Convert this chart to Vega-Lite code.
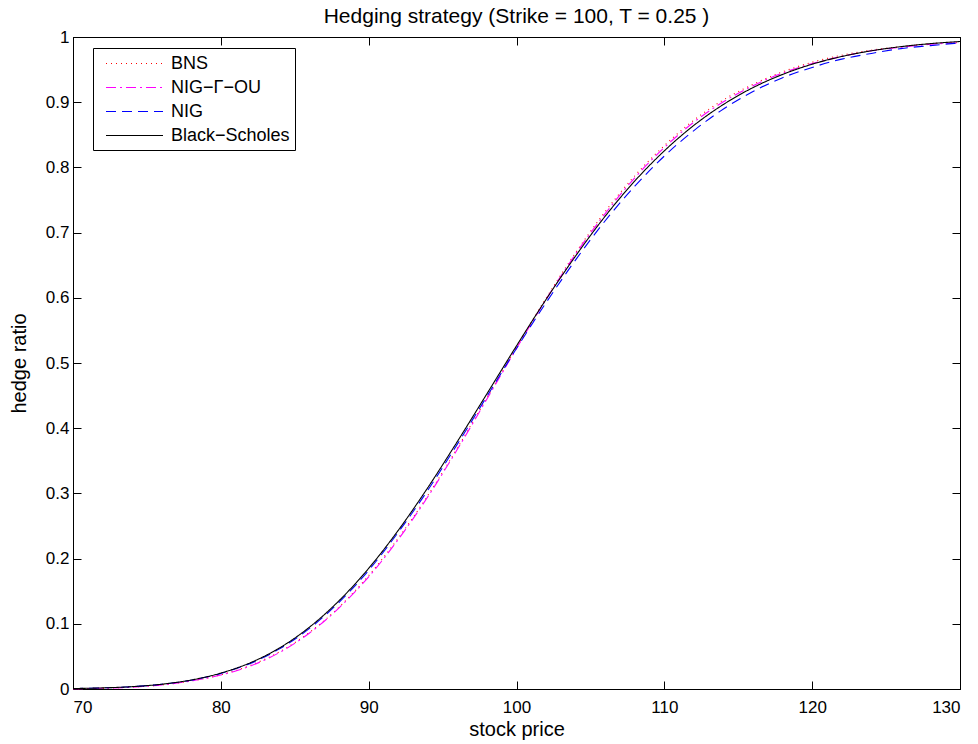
{
  "$schema": "https://vega.github.io/schema/vega-lite/v6.json",
  "width": 887,
  "height": 652,
  "autosize": {"type": "none"},
  "padding": {"left": 73, "top": 37, "right": 18, "bottom": 55},
  "background": "white",
  "config": {
    "font": "Liberation Sans",
    "view": {"stroke": "black", "strokeWidth": 1},
    "axis": {"grid": false, "domainColor": "black", "tickColor": "black", "labelColor": "black", "titleColor": "black", "labelFont": "Liberation Sans", "titleFont": "Liberation Sans", "labelFontSize": 17, "titleFontSize": 20, "titleFontWeight": "normal", "tickSize": -8}
  },
  "title": {"text": "Hedging strategy (Strike = 100, T = 0.25 )", "fontSize": 21, "fontWeight": "normal", "font": "Liberation Sans", "color": "black", "offset": 1},
  "data": {"values": [
    {"model": "BNS", "S": 70, "h": 0.0005}, {"model": "BNS", "S": 72, "h": 0.0013}, {"model": "BNS", "S": 74, "h": 0.0030}, {"model": "BNS", "S": 76, "h": 0.0063}, {"model": "BNS", "S": 78, "h": 0.0123}, {"model": "BNS", "S": 80, "h": 0.0219}, {"model": "BNS", "S": 82, "h": 0.0363}, {"model": "BNS", "S": 84, "h": 0.0574}, {"model": "BNS", "S": 86, "h": 0.0869}, {"model": "BNS", "S": 88, "h": 0.1255}, {"model": "BNS", "S": 90, "h": 0.1740}, {"model": "BNS", "S": 92, "h": 0.2313}, {"model": "BNS", "S": 94, "h": 0.2968}, {"model": "BNS", "S": 96, "h": 0.3696}, {"model": "BNS", "S": 98, "h": 0.4468}, {"model": "BNS", "S": 100, "h": 0.5243}, {"model": "BNS", "S": 102, "h": 0.5995}, {"model": "BNS", "S": 104, "h": 0.6692}, {"model": "BNS", "S": 106, "h": 0.7322}, {"model": "BNS", "S": 108, "h": 0.7871}, {"model": "BNS", "S": 110, "h": 0.8334}, {"model": "BNS", "S": 112, "h": 0.8725}, {"model": "BNS", "S": 114, "h": 0.9036}, {"model": "BNS", "S": 116, "h": 0.9274}, {"model": "BNS", "S": 118, "h": 0.9466}, {"model": "BNS", "S": 120, "h": 0.9613}, {"model": "BNS", "S": 122, "h": 0.9721}, {"model": "BNS", "S": 124, "h": 0.9798}, {"model": "BNS", "S": 126, "h": 0.9852}, {"model": "BNS", "S": 128, "h": 0.9898}, {"model": "BNS", "S": 130, "h": 0.9921},
    {"model": "NIG−Γ−OU", "S": 70, "h": 0.0004}, {"model": "NIG−Γ−OU", "S": 72, "h": 0.0012}, {"model": "NIG−Γ−OU", "S": 74, "h": 0.0028}, {"model": "NIG−Γ−OU", "S": 76, "h": 0.0063}, {"model": "NIG−Γ−OU", "S": 78, "h": 0.0123}, {"model": "NIG−Γ−OU", "S": 80, "h": 0.0214}, {"model": "NIG−Γ−OU", "S": 82, "h": 0.0353}, {"model": "NIG−Γ−OU", "S": 84, "h": 0.0564}, {"model": "NIG−Γ−OU", "S": 86, "h": 0.0859}, {"model": "NIG−Γ−OU", "S": 88, "h": 0.1245}, {"model": "NIG−Γ−OU", "S": 90, "h": 0.1720}, {"model": "NIG−Γ−OU", "S": 92, "h": 0.2293}, {"model": "NIG−Γ−OU", "S": 94, "h": 0.2948}, {"model": "NIG−Γ−OU", "S": 96, "h": 0.3676}, {"model": "NIG−Γ−OU", "S": 98, "h": 0.4448}, {"model": "NIG−Γ−OU", "S": 100, "h": 0.5223}, {"model": "NIG−Γ−OU", "S": 102, "h": 0.5975}, {"model": "NIG−Γ−OU", "S": 104, "h": 0.6672}, {"model": "NIG−Γ−OU", "S": 106, "h": 0.7292}, {"model": "NIG−Γ−OU", "S": 108, "h": 0.7841}, {"model": "NIG−Γ−OU", "S": 110, "h": 0.8304}, {"model": "NIG−Γ−OU", "S": 112, "h": 0.8695}, {"model": "NIG−Γ−OU", "S": 114, "h": 0.9006}, {"model": "NIG−Γ−OU", "S": 116, "h": 0.9254}, {"model": "NIG−Γ−OU", "S": 118, "h": 0.9446}, {"model": "NIG−Γ−OU", "S": 120, "h": 0.9593}, {"model": "NIG−Γ−OU", "S": 122, "h": 0.9701}, {"model": "NIG−Γ−OU", "S": 124, "h": 0.9788}, {"model": "NIG−Γ−OU", "S": 126, "h": 0.9842}, {"model": "NIG−Γ−OU", "S": 128, "h": 0.9888}, {"model": "NIG−Γ−OU", "S": 130, "h": 0.9911},
    {"model": "NIG", "S": 70, "h": 0.0007}, {"model": "NIG", "S": 72, "h": 0.0017}, {"model": "NIG", "S": 74, "h": 0.0036}, {"model": "NIG", "S": 76, "h": 0.0073}, {"model": "NIG", "S": 78, "h": 0.0135}, {"model": "NIG", "S": 80, "h": 0.0239}, {"model": "NIG", "S": 82, "h": 0.0393}, {"model": "NIG", "S": 84, "h": 0.0619}, {"model": "NIG", "S": 86, "h": 0.0929}, {"model": "NIG", "S": 88, "h": 0.1330}, {"model": "NIG", "S": 90, "h": 0.1820}, {"model": "NIG", "S": 92, "h": 0.2403}, {"model": "NIG", "S": 94, "h": 0.3048}, {"model": "NIG", "S": 96, "h": 0.3756}, {"model": "NIG", "S": 98, "h": 0.4488}, {"model": "NIG", "S": 100, "h": 0.5223}, {"model": "NIG", "S": 102, "h": 0.5925}, {"model": "NIG", "S": 104, "h": 0.6582}, {"model": "NIG", "S": 106, "h": 0.7182}, {"model": "NIG", "S": 108, "h": 0.7711}, {"model": "NIG", "S": 110, "h": 0.8174}, {"model": "NIG", "S": 112, "h": 0.8565}, {"model": "NIG", "S": 114, "h": 0.8896}, {"model": "NIG", "S": 116, "h": 0.9164}, {"model": "NIG", "S": 118, "h": 0.9376}, {"model": "NIG", "S": 120, "h": 0.9533}, {"model": "NIG", "S": 122, "h": 0.9661}, {"model": "NIG", "S": 124, "h": 0.9748}, {"model": "NIG", "S": 126, "h": 0.9822}, {"model": "NIG", "S": 128, "h": 0.9868}, {"model": "NIG", "S": 130, "h": 0.9911},
    {"model": "Black−Scholes", "S": 70, "h": 0.0007}, {"model": "Black−Scholes", "S": 72, "h": 0.0017}, {"model": "Black−Scholes", "S": 74, "h": 0.0036}, {"model": "Black−Scholes", "S": 76, "h": 0.0073}, {"model": "Black−Scholes", "S": 78, "h": 0.0138}, {"model": "Black−Scholes", "S": 80, "h": 0.0244}, {"model": "Black−Scholes", "S": 82, "h": 0.0403}, {"model": "Black−Scholes", "S": 84, "h": 0.0634}, {"model": "Black−Scholes", "S": 86, "h": 0.0949}, {"model": "Black−Scholes", "S": 88, "h": 0.1355}, {"model": "Black−Scholes", "S": 90, "h": 0.1850}, {"model": "Black−Scholes", "S": 92, "h": 0.2433}, {"model": "Black−Scholes", "S": 94, "h": 0.3088}, {"model": "Black−Scholes", "S": 96, "h": 0.3796}, {"model": "Black−Scholes", "S": 98, "h": 0.4528}, {"model": "Black−Scholes", "S": 100, "h": 0.5263}, {"model": "Black−Scholes", "S": 102, "h": 0.5975}, {"model": "Black−Scholes", "S": 104, "h": 0.6642}, {"model": "Black−Scholes", "S": 106, "h": 0.7252}, {"model": "Black−Scholes", "S": 108, "h": 0.7791}, {"model": "Black−Scholes", "S": 110, "h": 0.8254}, {"model": "Black−Scholes", "S": 112, "h": 0.8645}, {"model": "Black−Scholes", "S": 114, "h": 0.8966}, {"model": "Black−Scholes", "S": 116, "h": 0.9224}, {"model": "Black−Scholes", "S": 118, "h": 0.9426}, {"model": "Black−Scholes", "S": 120, "h": 0.9583}, {"model": "Black−Scholes", "S": 122, "h": 0.9701}, {"model": "Black−Scholes", "S": 124, "h": 0.9788}, {"model": "Black−Scholes", "S": 126, "h": 0.9852}, {"model": "Black−Scholes", "S": 128, "h": 0.9898}, {"model": "Black−Scholes", "S": 130, "h": 0.9931}
  ]},
  "layer": [
    {
      "mark": {"type": "line", "strokeWidth": 1.1, "interpolate": "monotone"},
      "encoding": {
        "x": {"field": "S", "type": "quantitative", "scale": {"domain": [70, 130], "nice": false, "zero": false}, "axis": {"title": "stock price", "values": [70, 80, 90, 100, 110, 120, 130], "labelPadding": 18, "titlePadding": 4}},
        "y": {"field": "h", "type": "quantitative", "scale": {"domain": [0, 1], "nice": false}, "axis": {"title": "hedge ratio", "values": [0, 0.1, 0.2, 0.3, 0.4, 0.5, 0.6, 0.7, 0.8, 0.9, 1], "format": "~g", "labelPadding": 12, "titlePadding": 16}},
        "color": {"field": "model", "type": "nominal", "scale": {"domain": ["BNS", "NIG−Γ−OU", "NIG", "Black−Scholes"], "range": ["#ff0000", "#ff00ff", "#0000ff", "#000000"]},
          "legend": {"title": null, "orient": "none", "legendX": 20, "legendY": 11, "fillColor": "white", "strokeColor": "black", "padding": 5, "symbolType": "M-3,0H3", "symbolSize": 361, "symbolOffset": 26, "symbolStrokeWidth": 1.1, "symbolOpacity": 1, "symbolFillColor": "transparent", "labelFontSize": 18, "labelFont": "Liberation Sans", "labelColor": "black", "rowPadding": 4, "labelOffset": 26,
            "encode": {"symbols": {"update": {"stroke": {"scale": "color", "field": "value"}, "strokeDash": {"scale": "strokeDash", "field": "value"}}}}}},
        "strokeDash": {"field": "model", "type": "nominal", "legend": null, "scale": {"domain": ["BNS", "NIG−Γ−OU", "NIG", "Black−Scholes"], "range": [[1, 4], [10, 4, 2, 4], [10, 6], [1, 0]]}},
        "order": {"field": "S", "type": "quantitative"}
      }
    },
    {
      "mark": {"type": "line", "opacity": 0},
      "encoding": {
        "x": {"field": "S", "type": "quantitative", "scale": {"domain": [70, 130], "nice": false, "zero": false}, "axis": {"orient": "top", "labels": false, "title": null, "values": [70, 80, 90, 100, 110, 120, 130]}},
        "y": {"field": "h", "type": "quantitative", "scale": {"domain": [0, 1], "nice": false}, "axis": {"orient": "right", "labels": false, "title": null, "values": [0, 0.1, 0.2, 0.3, 0.4, 0.5, 0.6, 0.7, 0.8, 0.9, 1]}}
      }
    }
  ],
  "resolve": {"axis": {"x": "independent", "y": "independent"}}
}
